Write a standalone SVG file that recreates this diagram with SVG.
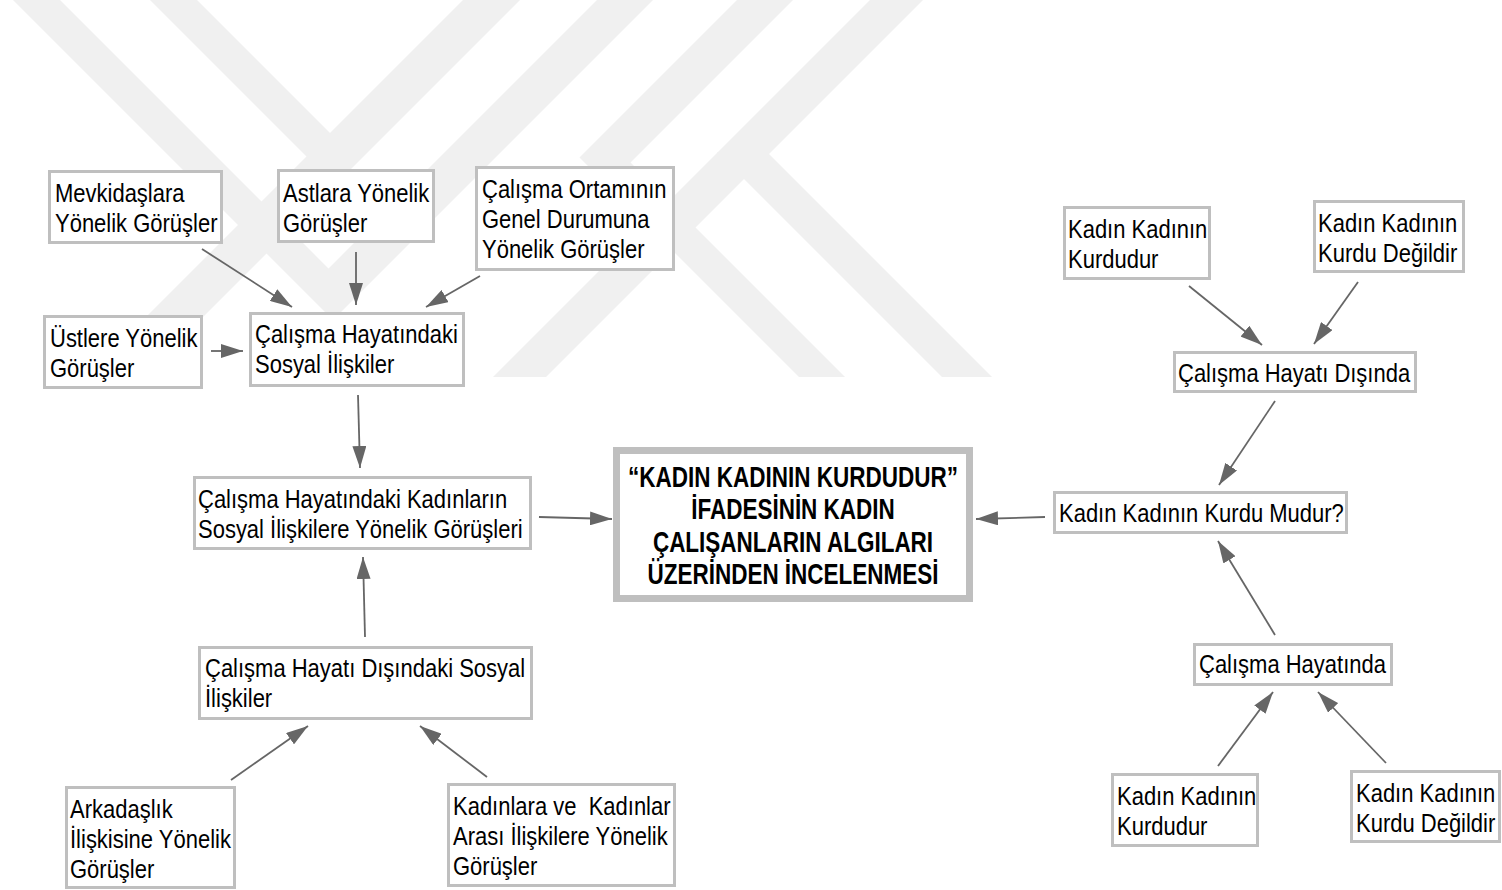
<svg xmlns="http://www.w3.org/2000/svg" width="1502" height="890" viewBox="0 0 1502 890">
<defs>
<marker id="ah" markerUnits="userSpaceOnUse" markerWidth="22" markerHeight="14" refX="22" refY="7" orient="auto"><path d="M0,0 L22,7 L0,14 Z" fill="#666"/></marker>
</defs>
<style>
.wm{fill:#f0f0f0}
.box{fill:#fff;stroke:#bfbfbf;stroke-width:3}
.main{fill:#fff;stroke:#bfbfbf;stroke-width:7}
.t{font-family:"Liberation Sans",Arial,sans-serif;font-size:25px;fill:#000}
.tb{font-family:"Liberation Sans",Arial,sans-serif;font-size:30px;font-weight:bold;fill:#000;text-anchor:middle}
.c line{stroke:#666;stroke-width:1.8;marker-end:url(#ah)}
</style>
<rect width="1502" height="890" fill="#fff"/>
<g id="watermark">
<polygon class="wm" points="13,0 333,320 653,0 597,0 328.5,268.5 60,0"/>
<polygon class="wm" points="463,0 520,0 143,377 86,377"/>
<polygon class="wm" points="150,0 197,0 357,160 310,160"/>
<polygon class="wm" points="737,0 579.5,157.5 799,377 845,377 630.5,162.5 793,0"/>
<polygon class="wm" points="870,0 923,0 546,377 493,377"/>
<polygon class="wm" points="717,152 767,152 992,377 942,377"/>
</g>
<g id="connectors" class="c">
<line x1="202" y1="249" x2="292" y2="307"/>
<line x1="356" y1="252" x2="356" y2="305"/>
<line x1="480" y1="276" x2="426" y2="307"/>
<line x1="211" y1="351" x2="243" y2="351"/>
<line x1="358" y1="395" x2="360" y2="468"/>
<line x1="365" y1="637" x2="363" y2="557"/>
<line x1="539" y1="517" x2="612" y2="519"/>
<line x1="1045" y1="517" x2="976" y2="519"/>
<line x1="231" y1="780" x2="308" y2="726"/>
<line x1="487" y1="777" x2="420" y2="726"/>
<line x1="1189" y1="286" x2="1262" y2="345"/>
<line x1="1358" y1="282" x2="1314" y2="344"/>
<line x1="1275" y1="401" x2="1219" y2="485"/>
<line x1="1275" y1="635" x2="1218" y2="541"/>
<line x1="1218" y1="766" x2="1273" y2="692"/>
<line x1="1386" y1="763" x2="1318" y2="692"/>
</g>
<g id="n1"><rect class="box" x="49.5" y="171.5" width="172" height="71"/>
<text class="t" transform="translate(55,0) scale(0.88,1)"><tspan x="0" y="202">Mevkidaşlara</tspan><tspan x="0" y="232">Yönelik Görüşler</tspan></text></g>
<g id="n2"><rect class="box" x="278.5" y="170.5" width="155" height="71"/>
<text class="t" transform="translate(283,0) scale(0.88,1)"><tspan x="0" y="202">Astlara Yönelik</tspan><tspan x="0" y="232">Görüşler</tspan></text></g>
<g id="n3"><rect class="box" x="476.5" y="167.5" width="197" height="102"/>
<text class="t" transform="translate(482,0) scale(0.88,1)"><tspan x="0" y="198">Çalışma Ortamının</tspan><tspan x="0" y="228">Genel Durumuna</tspan><tspan x="0" y="258">Yönelik Görüşler</tspan></text></g>
<g id="n4"><rect class="box" x="44.5" y="316.5" width="157" height="71"/>
<text class="t" transform="translate(50,0) scale(0.88,1)"><tspan x="0" y="347">Üstlere Yönelik</tspan><tspan x="0" y="377">Görüşler</tspan></text></g>
<g id="n5"><rect class="box" x="250.5" y="313.5" width="213" height="72"/>
<text class="t" transform="translate(255,0) scale(0.88,1)"><tspan x="0" y="343">Çalışma Hayatındaki</tspan><tspan x="0" y="373">Sosyal İlişkiler</tspan></text></g>
<g id="n6"><rect class="box" x="194.5" y="477.5" width="336" height="71"/>
<text class="t" transform="translate(198,0) scale(0.88,1)"><tspan x="0" y="508">Çalışma Hayatındaki Kadınların</tspan><tspan x="0" y="538">Sosyal İlişkilere Yönelik Görüşleri</tspan></text></g>
<g id="n7"><rect class="box" x="199.5" y="647.5" width="332" height="71"/>
<text class="t" transform="translate(205,0) scale(0.88,1)"><tspan x="0" y="677">Çalışma Hayatı Dışındaki Sosyal</tspan><tspan x="0" y="707">İlişkiler</tspan></text></g>
<g id="n8"><rect class="box" x="66.5" y="787.5" width="168" height="100"/>
<text class="t" transform="translate(70,0) scale(0.88,1)"><tspan x="0" y="818">Arkadaşlık</tspan><tspan x="0" y="848">İlişkisine Yönelik</tspan><tspan x="0" y="878">Görüşler</tspan></text></g>
<g id="n9"><rect class="box" x="448.5" y="784.5" width="226" height="101"/>
<text class="t" xml:space="preserve" transform="translate(453,0) scale(0.88,1)"><tspan x="0" y="815">Kadınlara ve  Kadınlar</tspan><tspan x="0" y="845">Arası İlişkilere Yönelik</tspan><tspan x="0" y="875">Görüşler</tspan></text></g>
<g id="n10"><rect class="main" x="616.5" y="450.5" width="353" height="148"/>
<text class="tb" transform="translate(793,0) scale(0.75,1)"><tspan x="0" y="487">“KADIN KADININ KURDUDUR”</tspan><tspan x="0" y="519">İFADESİNİN KADIN</tspan><tspan x="0" y="552">ÇALIŞANLARIN ALGILARI</tspan><tspan x="0" y="584">ÜZERİNDEN İNCELENMESİ</tspan></text></g>
<g id="n11"><rect class="box" x="1064.5" y="207.5" width="145" height="71"/>
<text class="t" transform="translate(1068,0) scale(0.88,1)"><tspan x="0" y="238">Kadın Kadının</tspan><tspan x="0" y="268">Kurdudur</tspan></text></g>
<g id="n12"><rect class="box" x="1314.5" y="201.5" width="149" height="70"/>
<text class="t" transform="translate(1318,0) scale(0.88,1)"><tspan x="0" y="232">Kadın Kadının</tspan><tspan x="0" y="262">Kurdu Değildir</tspan></text></g>
<g id="n13"><rect class="box" x="1174.5" y="352.5" width="241" height="39"/>
<text class="t" transform="translate(1178,0) scale(0.88,1)"><tspan x="0" y="382">Çalışma Hayatı Dışında</tspan></text></g>
<g id="n14"><rect class="box" x="1054.5" y="492.5" width="292" height="40"/>
<text class="t" transform="translate(1059,0) scale(0.88,1)"><tspan x="0" y="522">Kadın Kadının Kurdu Mudur?</tspan></text></g>
<g id="n15"><rect class="box" x="1194.5" y="644.5" width="197" height="40"/>
<text class="t" transform="translate(1199,0) scale(0.88,1)"><tspan x="0" y="673">Çalışma Hayatında</tspan></text></g>
<g id="n16"><rect class="box" x="1112.5" y="774.5" width="145" height="71"/>
<text class="t" transform="translate(1117,0) scale(0.88,1)"><tspan x="0" y="805">Kadın Kadının</tspan><tspan x="0" y="835">Kurdudur</tspan></text></g>
<g id="n17"><rect class="box" x="1351.5" y="771.5" width="148" height="70"/>
<text class="t" transform="translate(1356,0) scale(0.88,1)"><tspan x="0" y="802">Kadın Kadının</tspan><tspan x="0" y="832">Kurdu Değildir</tspan></text></g>
</svg>
